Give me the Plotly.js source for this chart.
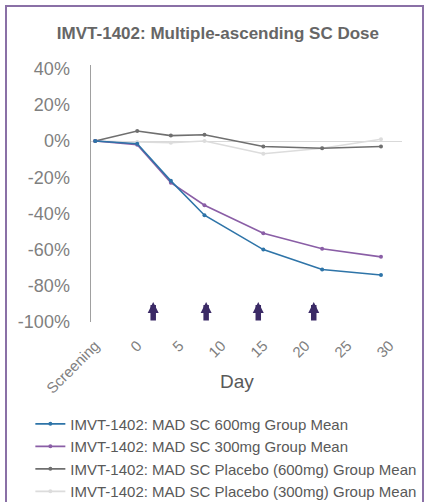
<!DOCTYPE html>
<html>
<head>
<meta charset="utf-8">
<script src="https://cdn.plot.ly/plotly-3.0.1.min.js"></script>
<style>
  html, body { margin: 0; padding: 0; background: #ffffff; }
  #wrap { position: relative; width: 424px; height: 502px; overflow: hidden; }
  #chart { position: absolute; left: 0; top: 0; width: 424px; height: 520px; }
  #frame { position: absolute; left: 5px; top: 5px; width: 419px; height: 520px;
           border: 2px solid #8a70a6; box-sizing: border-box; pointer-events: none; }
</style>
</head>
<body>
<div id="wrap">
  <div id="chart"></div>
  <div id="frame"></div>
</div>
<script>
// Day positions (Screening placed one tick before Day 0)
const days = [-5, 0, 4, 8, 15, 22, 29];
const tickVals = [-5, 0, 5, 10, 15, 20, 25, 30];
const tickLabels = ["Screening", "0", "5", "10", "15", "20", "25", "30"];
const yTickVals = [-100, -80, -60, -40, -20, 0, 20, 40];
const yTickLabels = ["-100%", "-80%", "-60%", "-40%", "-20%", "0%", "20%", "40%"];

// % change from baseline
const sc600 = [0, -1.5, -22, -41, -60, -71, -74];
const sc300 = [0, -2, -23, -35.5, -51, -59.5, -64];
const placebo600 = [0, 5.5, 3, 3.5, -3, -4, -3];
const placebo300 = [0, -0.5, -1, 0, -7, -4, 1];

// dosing arrows (day)
const doseDays = [1.9, 8.2, 14.4, 21];

const names = [
  "IMVT-1402: MAD SC 600mg Group Mean",
  "IMVT-1402: MAD SC 300mg Group Mean",
  "IMVT-1402: MAD SC Placebo (600mg) Group Mean",
  "IMVT-1402: MAD SC Placebo (300mg) Group Mean"
];
const colors = ["#2e74a8", "#8a5ea6", "#6f6f6f", "#dcdcdc"];
const series = [sc600, sc300, placebo600, placebo300];

const traces = series.map((s, i) => ({
  x: days, y: s, name: names[i], type: "scatter", mode: "lines+markers",
  line: { color: colors[i], width: 1.6 },
  marker: { color: colors[i], size: 4 },
  legendgroup: "g" + i
})).reverse();

const font = "Liberation Sans, Arial, sans-serif";

const annotations = doseDays.map(d => ({
  x: d, y: -89, ax: d, ay: -100, xref: "x", yref: "y", axref: "x", ayref: "y",
  text: "", showarrow: true, arrowhead: 2, arrowsize: 0.4, arrowwidth: 5.5,
  arrowcolor: "#3b2a66"
}));
annotations.push({
  text: "Day", xref: "paper", yref: "paper", x: 0.47, y: -0.23,
  xanchor: "center", yanchor: "middle", showarrow: false,
  font: { family: font, size: 19, color: "#595959" }
});

const layout = {
  width: 424, height: 520,
  margin: { l: 91, r: 22, t: 65, b: 194 },
  paper_bgcolor: "#ffffff", plot_bgcolor: "#ffffff",
  showlegend: true,
  title: {
    text: "<b>IMVT-1402: Multiple-ascending SC Dose</b>",
    font: { family: font, size: 17, color: "#666666" },
    xref: "container", x: 0.514, xanchor: "center",
    yref: "container", y: 1 - 33 / 520, yanchor: "middle"
  },
  xaxis: {
    range: [-5.5, 31.5],
    tickmode: "array", tickvals: tickVals, ticktext: tickLabels,
    tickangle: -45, showgrid: false, zeroline: false, showline: false,
    ticks: "", ticklabelstandoff: 11,
    tickfont: { family: font, size: 15, color: "#7f7f7f" }
  },
  yaxis: {
    range: [-100, 42],
    tickmode: "array", tickvals: yTickVals, ticktext: yTickLabels,
    showgrid: false,
    zeroline: true, zerolinecolor: "#d9d9d9", zerolinewidth: 1,
    showline: true, linecolor: "#a0a0a0", linewidth: 1.5,
    ticks: "", ticklabelstandoff: 16,
    tickfont: { family: font, size: 18, color: "#7f7f7f" }
  },
  legend: {
    orientation: "v", traceorder: "reversed",
    x: -0.195, xanchor: "left", y: -0.333, yanchor: "top",
    font: { family: font, size: 15, color: "#595959" },
    tracegroupgap: 3, bgcolor: "rgba(0,0,0,0)"
  },
  annotations: annotations
};

Plotly.newPlot("chart", traces, layout, { displayModeBar: false, staticPlot: true });
</script>
</body>
</html>
